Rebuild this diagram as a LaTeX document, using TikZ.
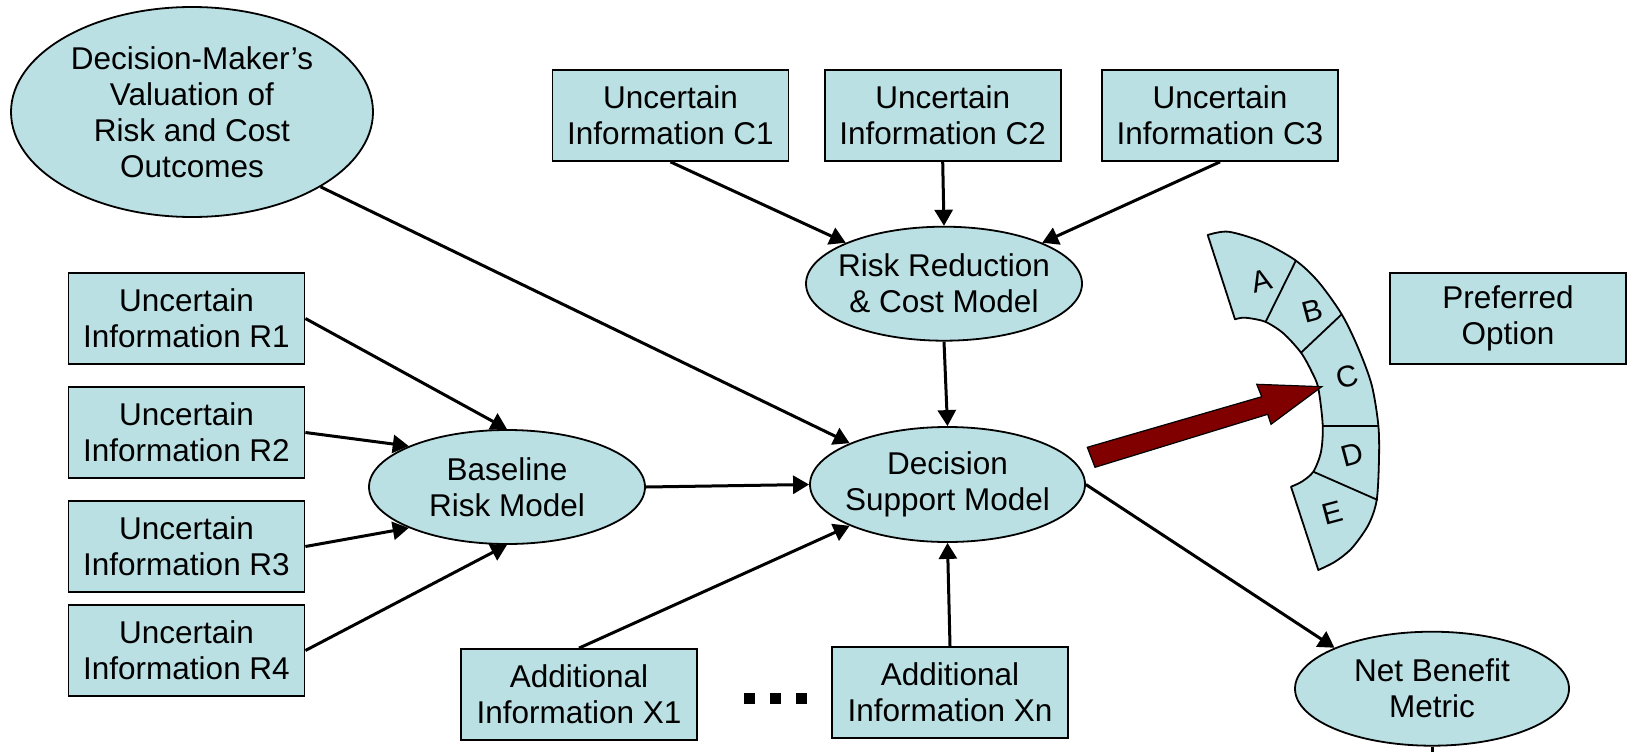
\documentclass[tikz,border=0pt]{standalone}
\usepackage{fontspec}
\setmainfont{Liberation Sans}
\usetikzlibrary{shapes.geometric,arrows.meta}
\definecolor{nodefill}{RGB}{186,224,227}
\definecolor{darkred}{RGB}{128,0,0}
\newcommand{\mainfs}{\fontsize{31.5}{36}\selectfont}
\newcommand{\letfs}{\fontsize{30}{32}\selectfont}
\tikzset{
  box/.style={draw=black, line width=1.8pt, fill=nodefill, minimum width=236pt, minimum height=91pt, inner sep=0pt, align=center, font=\mainfs},
  ell/.style={ellipse, draw=black, line width=1.8pt, fill=nodefill, inner sep=-12pt, align=center, font=\mainfs},
  conn/.style={line width=3pt, -{Triangle[length=16pt,width=18pt]}},
  letter/.style={font=\letfs, rotate=15, inner sep=0pt},
  dotsq/.style={fill=black, minimum size=11pt, inner sep=0pt},
}
\begin{document}
\begin{tikzpicture}[x=1pt,y=-1pt]
\useasboundingbox (0,0) rectangle (1627,752);
% ellipses
\node[ell, minimum width=362pt, minimum height=210pt] (DM) at (192,112) {Decision-Maker’s\\Valuation of\\Risk and Cost\\Outcomes};
\node[ell, minimum width=276pt, minimum height=114pt] (RR) at (944,283.7) {Risk Reduction\\\& Cost Model};
\node[ell, minimum width=276pt, minimum height=114pt] (BL) at (507,487) {Baseline\\Risk Model};
\node[ell, minimum width=275pt, minimum height=115pt] (DS) at (947.5,484.5) {Decision\\Support Model};
\node[ell, minimum width=274pt, minimum height=114pt] (NB) at (1432,688.7) {Net Benefit\\Metric};
% boxes
\node[box] (C1) at (670.5,115.5) {Uncertain\\Information C1};
\node[box] (C2) at (942.7,115.5) {Uncertain\\Information C2};
\node[box] (C3) at (1220,115.5) {Uncertain\\Information C3};
\node[box] (R1) at (186.5,318.5) {Uncertain\\Information R1};
\node[box] (R2) at (186.5,432.5) {Uncertain\\Information R2};
\node[box] (R3) at (186.5,546.5) {Uncertain\\Information R3};
\node[box] (R4) at (186.5,650.5) {Uncertain\\Information R4};
\node[box] (PO) at (1508,318.5) {Preferred\\Option};
\node[box] (X1) at (579,694.5) {Additional\\Information X1};
\node[box] (Xn) at (950,692.5) {Additional\\Information Xn};
% dots
\node[dotsq] (d1) at (749,698) {};
\node[dotsq] (d2) at (775,698) {};
\node[dotsq] (d3) at (801,698) {};
% connectors
\draw[conn] (DM.south east) -- (DS.north west);
\draw[conn] (C1.south) -- (RR.north west);
\draw[conn] (C2.south) -- (RR.north);
\draw[conn] (C3.south) -- (RR.north east);
\draw[conn] (RR.south) -- (DS.north);
\draw[conn] (R1.east) -- (BL.north);
\draw[conn] (R2.east) -- (BL.north west);
\draw[conn] (R3.east) -- (BL.south west);
\draw[conn] (R4.east) -- (BL.south);
\draw[conn] (BL.east) -- (DS.west);
\draw[conn] (X1.north) -- (DS.south west);
\draw[conn] (Xn.north) -- (DS.south);
\draw[conn] (DS.east) -- (NB.north west);
\coordinate (NBend) at (1432,752);
\draw[line width=3pt] (NB.south) -- (NBend);
% fan
\filldraw[fill=nodefill, draw=black, line width=1.8pt, line join=round]
  plot[smooth] coordinates {(1207.7,235) (1228.3,231.7) (1261.7,241.7) (1295,260) (1318.3,281.7) (1341.7,314.3) (1358.3,348.3) (1371.7,385) (1378.3,425) (1379,458.3) (1376.7,500) (1368.3,525) (1351.7,548.3) (1335,561.7) (1318.3,570)}
  -- plot[smooth] coordinates {(1291,486.7) (1301.7,481.7) (1313.3,471.7) (1321,451.7) (1322.7,425) (1318.3,388.3) (1311.7,371.7) (1301,352.7) (1283.3,333.3) (1265,321.7) (1245,317.7) (1235,319.3)}
  -- cycle;
\draw[line width=1.8pt] (1265.7,321.7) -- (1295.7,261);
\draw[line width=1.8pt] (1301,352.7) -- (1341.7,314.3);
\draw[line width=1.8pt] (1322.7,426) -- (1378.3,426);
\draw[line width=1.8pt] (1313.3,471.7) -- (1377.7,500);
\node[letter] (LA) at (1261.7,281) {A};
\node[letter] (LB) at (1312,311) {B};
\node[letter] (LC) at (1347,377) {C};
\node[letter] (LD) at (1352,455) {D};
\node[letter] (LE) at (1332,513) {E};
% red block arrow
\filldraw[fill=darkred, draw=black, line width=1.2pt, line join=miter]
  (1087.3,447.3) -- (1261.7,396.7) -- (1256.7,384.3) -- (1321.7,386.7) -- (1271,424.3) -- (1267.7,414.3) -- (1095,467.3) -- cycle;
\end{tikzpicture}
\end{document}
